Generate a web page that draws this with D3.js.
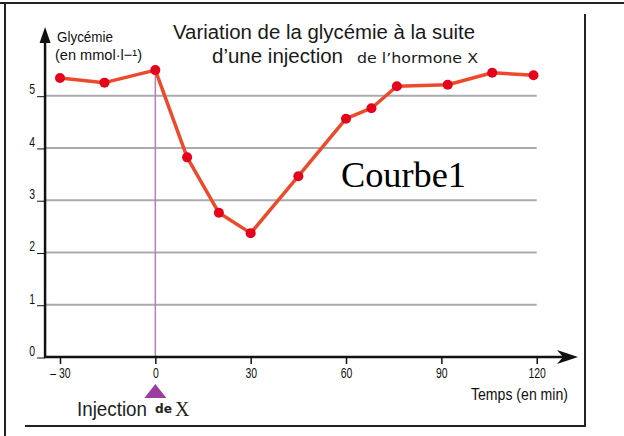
<!DOCTYPE html>
<html>
<head>
<meta charset="utf-8">
<script src="https://cdn.jsdelivr.net/npm/d3@7"></script>
<style>
  html, body { margin: 0; padding: 0; background: #fff; }
  svg { display: block; }
</style>
</head>
<body>
<div id="chart"></div>
<script>
  // time in minutes relative to the injection, glycemia in mmol/L
  const times = [-30, -16, 0, 10, 20, 30, 45, 60, 68, 76, 92, 106, 119];
  const glycemia = [5.34, 5.25, 5.49, 3.82, 2.76, 2.37, 3.46, 4.56, 4.76, 5.18, 5.21, 5.44, 5.39];
  const xTicks = [-30, 0, 30, 60, 90, 120];
  const yTicks = [0, 1, 2, 3, 4, 5];
  const injectionTime = 0;

  const width = 624;
  const height = 436;
  const ink = "#111";
  const sans = '"Liberation Sans", Arial, sans-serif';
  const serif = '"Liberation Serif", "Times New Roman", serif';

  // squeeze text horizontally to mimic a condensed face
  function condense(selection, factor) {
    selection.each(function () {
      const len = this.getComputedTextLength();
      d3.select(this).attr("textLength", len * factor).attr("lengthAdjust", "spacingAndGlyphs");
    });
  }

  const svg = d3.select("#chart").append("svg").attr("width", width).attr("height", height);

  // frame pieces around the picture
  const frame = svg.append("g").attr("stroke", "#222").attr("stroke-width", 2);
  frame.append("line").attr("x1", 0).attr("x2", width).attr("y1", 3).attr("y2", 3);
  frame.append("line").attr("x1", 5).attr("x2", 5).attr("y1", 3).attr("y2", height);
  frame.append("line").attr("x1", 585).attr("x2", 585).attr("y1", 14).attr("y2", 427);
  frame.append("line").attr("x1", 25).attr("x2", 586).attr("y1", 426).attr("y2", 426);

  const x = d3.scaleLinear().domain([-30, 120]).range([60, 536.7]);
  const y = d3.scaleLinear().domain([0, 5]).range([357, 95.7]);
  const x0 = x(-34.7);

  // grid lines
  svg.append("g")
    .selectAll("line")
    .data(yTicks.filter((d) => d > 0))
    .join("line")
    .attr("x1", x0)
    .attr("x2", x(120))
    .attr("y1", (d) => y(d))
    .attr("y2", (d) => y(d))
    .attr("stroke", "#a9abae")
    .attr("stroke-width", 2);

  // injection marker line
  svg.append("line")
    .attr("x1", x(injectionTime))
    .attr("x2", x(injectionTime))
    .attr("y1", y(glycemia[times.indexOf(injectionTime)]))
    .attr("y2", y(0))
    .attr("stroke", "#b77cc4")
    .attr("stroke-width", 1.5);

  // y axis
  const yAxis = svg.append("g")
    .attr("transform", `translate(${x0},0)`)
    .call(d3.axisLeft(y).tickValues(yTicks).tickSize(8).tickPadding(2).tickFormat(d3.format("d")));
  yAxis.select(".domain").remove();
  yAxis.selectAll("line").attr("stroke", ink).attr("stroke-width", 1).attr("transform", "translate(0,0.5)");
  yAxis.selectAll("text").attr("fill", ink).attr("font-family", sans).attr("font-size", 14.5).attr("dy", "-0.12em")
    .call(condense, 0.72);

  // x axis
  const xAxis = svg.append("g")
    .attr("transform", `translate(0,${y(0)})`)
    .call(d3.axisBottom(x).tickValues(xTicks).tickSize(7).tickPadding(4)
      .tickFormat((d) => (d < 0 ? "\u2013 " + Math.abs(d) : d)));
  xAxis.select(".domain").remove();
  xAxis.selectAll("line").attr("stroke", ink).attr("stroke-width", 1.5);
  xAxis.selectAll("text").attr("fill", ink).attr("font-family", sans).attr("font-size", 14.5)
    .call(condense, 0.72);

  // axis lines with arrows
  svg.append("line").attr("x1", x0).attr("x2", x0).attr("y1", y(0) + 1).attr("y2", 40)
    .attr("stroke", ink).attr("stroke-width", 2.5);
  svg.append("path").attr("d", `M${x0},27 L${x0 - 5.5},43 L${x0 + 5.5},43 Z`).attr("fill", ink);
  svg.append("line").attr("x1", x0 - 1).attr("x2", 565).attr("y1", y(0)).attr("y2", y(0))
    .attr("stroke", ink).attr("stroke-width", 2.5);
  svg.append("path").attr("d", `M578,${y(0)} L557,${y(0) - 7} L563,${y(0)} L557,${y(0) + 7} Z`).attr("fill", ink);

  // curve
  const points = times.map((t, i) => ({ t, g: glycemia[i] }));
  const line = d3.line().x((d) => x(d.t)).y((d) => y(d.g));
  svg.append("path")
    .datum(points)
    .attr("d", line)
    .attr("fill", "none")
    .attr("stroke", "#ec4a2c")
    .attr("stroke-width", 3.5)
    .attr("stroke-linejoin", "round");
  svg.append("g")
    .selectAll("circle")
    .data(points)
    .join("circle")
    .attr("cx", (d) => x(d.t))
    .attr("cy", (d) => y(d.g))
    .attr("r", 5)
    .attr("fill", "#e5001c");

  // injection triangle
  const tx = x(injectionTime);
  svg.append("path").attr("d", `M${tx},384 L${tx - 11},398 L${tx + 11},398 Z`).attr("fill", "#9c3e9e");

  // texts
  svg.append("text").attr("x", 57).attr("y", 42).attr("font-family", sans).attr("font-size", 15)
    .attr("fill", ink).attr("textLength", 56).attr("lengthAdjust", "spacingAndGlyphs").text("Glycémie");
  svg.append("text").attr("x", 55).attr("y", 60).attr("font-family", sans).attr("font-size", 15)
    .attr("fill", ink).attr("textLength", 87).attr("lengthAdjust", "spacingAndGlyphs")
    .text("(en mmol\u00b7l\u2212\u00b9)");

  svg.append("text").attr("x", 173).attr("y", 39).attr("font-family", sans)
    .attr("font-size", 20).attr("fill", "#1a1a1a").attr("textLength", 302).attr("lengthAdjust", "spacingAndGlyphs")
    .text("Variation de la glycémie à la suite");
  svg.append("text").attr("x", 212).attr("y", 63).attr("font-family", sans)
    .attr("font-size", 20).attr("fill", "#1a1a1a").attr("textLength", 131).attr("lengthAdjust", "spacingAndGlyphs")
    .text("d\u2019une injection");
  svg.append("text").attr("x", 357).attr("y", 63).attr("font-family", "DejaVu Sans, sans-serif")
    .attr("font-size", 14.5).attr("fill", "#1a1a1a").attr("textLength", 121).attr("lengthAdjust", "spacingAndGlyphs")
    .text("de l\u2019hormone X");

  svg.append("text").attr("x", 341).attr("y", 187).attr("font-family", serif)
    .attr("font-size", 35).attr("fill", "#000").attr("textLength", 125).attr("lengthAdjust", "spacingAndGlyphs")
    .text("Courbe1");

  svg.append("text").attr("x", 471).attr("y", 400).attr("font-family", sans).attr("font-size", 16.5)
    .attr("fill", ink).attr("textLength", 97).attr("lengthAdjust", "spacingAndGlyphs").text("Temps (en min)");

  svg.append("text").attr("x", 77).attr("y", 416).attr("font-family", sans).attr("font-size", 21)
    .attr("fill", "#222").attr("textLength", 70).attr("lengthAdjust", "spacingAndGlyphs").text("Injection");
  svg.append("text").attr("x", 155).attr("y", 413).attr("font-family", "DejaVu Sans, sans-serif").attr("font-weight", "bold")
    .attr("font-size", 12).attr("fill", "#222").attr("textLength", 17).attr("lengthAdjust", "spacingAndGlyphs").text("de");
  svg.append("text").attr("x", 175).attr("y", 416).attr("font-family", serif)
    .attr("font-size", 20).attr("fill", "#222").text("X");
</script>
</body>
</html>
